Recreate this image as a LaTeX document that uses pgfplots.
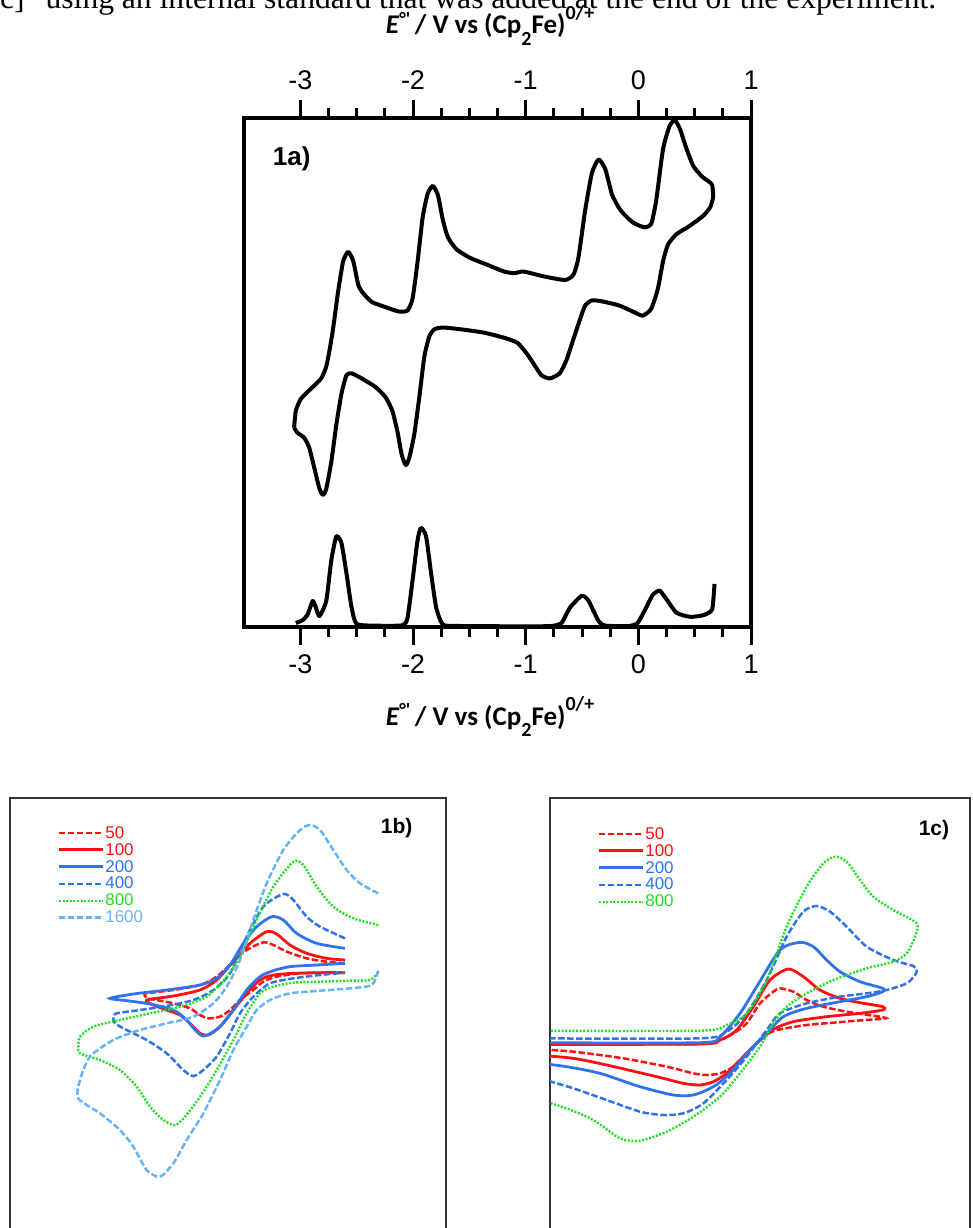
\documentclass[border=0pt]{standalone}
\usepackage{fontspec}
\usepackage{pgfplots}
\pgfplotsset{compat=1.18}
\setmainfont{Liberation Sans}
\newfontfamily\labfont{Carlito}
\newfontfamily\bodyfont{Liberation Serif}

\definecolor{cvred}{HTML}{FF1010}
\definecolor{cvblue}{HTML}{2F73EC}
\definecolor{cvgreen}{HTML}{22E022}
\definecolor{cvlblue}{HTML}{68B4F2}
\definecolor{framegray}{HTML}{333333}

% axis title: E°' / V vs (Cp2Fe)0/+
\newcommand\elabel{{\labfont\bfseries\fontsize{27}{27}\selectfont
  \textit{E}\raisebox{0.32em}{\fontsize{19}{19}\selectfont °'}\,/ V vs (Cp\raisebox{-0.42em}{\fontsize{20}{20}\selectfont 2}Fe)\raisebox{0.55em}{\fontsize{20}{20}\selectfont 0/+}}}

\pgfplotsset{
  panel/.style={scale only axis, anchor=south west,
    xtick=\empty, ytick=\empty, clip=true,
    axis line style={framegray, line width=1.8pt},
    ymin=20, ymax=1346,
    legend style={draw=none, fill=none, anchor=north west,
      font=\fontsize{17}{17}\selectfont, row sep=1.6pt, inner sep=0pt,
      nodes={inner sep=1pt}},
    legend image code/.code={\draw[##1] (0pt,0pt) -- (44pt,0pt);},
    legend cell align=left,
    every axis plot/.append style={smooth, tension=0.45}},
  s50/.style={cvred, line width=2.5pt, dash pattern=on 6.5pt off 2.5pt},
  s100/.style={cvred, line width=2.8pt},
  s200/.style={cvblue, line width=2.8pt},
  s400/.style={cvblue, line width=2.5pt, dash pattern=on 6.5pt off 2.5pt},
  s800/.style={cvgreen, line width=2.4pt, dash pattern=on 2pt off 1.6pt},
  s1600/.style={cvlblue, line width=2.5pt, dash pattern=on 6.5pt off 2.5pt},
}

\begin{document}
\begin{tikzpicture}[x=1pt,y=1pt]

% last line of the running text above the figure (cut at the page edge)
\node[anchor=base west, inner sep=0pt, font=\bodyfont\fontsize{31.6}{31.6}\selectfont]
  at (0,-9) {c]\textsuperscript{+} using an internal standard that was added at the end of the experiment.};

% ---------------- 1a) CV + DPV ----------------
\begin{axis}[
  at={(244pt,-627pt)}, anchor=south west,
  scale only axis, width=507pt, height=509pt,
  xmin=-3.5, xmax=1, ymin=0, ymax=1499,
  xtick={-3,-2,-1,0,1}, xticklabels={-3,-2,-1,0,1},
  minor x tick num=3, ytick=\empty,
  xtick align=outside,
  major tick length=18pt, minor tick length=10pt,
  every tick/.style={black, line width=3pt},
  axis line style={line width=3.5pt},
  xticklabel style={font=\fontsize{27}{27}\selectfont, yshift=-6pt},
  clip=false,
]
% cyclic voltammogram
\addplot[black, line width=4pt, line join=round, smooth, tension=0.35] coordinates {
  (-3.055,587) (-3.040,637) (-2.995,672) (-2.905,702) (-2.815,732) (-2.770,767)
  (-2.740,817) (-2.710,877) (-2.665,987) (-2.620,1077) (-2.575,1105) (-2.530,1077)
  (-2.485,1007) (-2.440,982) (-2.364,957) (-2.244,942) (-2.124,929) (-2.049,932)
  (-2.004,967) (-1.959,1077) (-1.914,1207) (-1.869,1277) (-1.824,1299) (-1.779,1272)
  (-1.734,1197) (-1.689,1147) (-1.613,1112) (-1.493,1087) (-1.343,1067) (-1.193,1047)
  (-1.103,1042) (-1.028,1047) (-0.953,1042) (-0.832,1032) (-0.652,1022) (-0.577,1037)
  (-0.532,1087) (-0.472,1227) (-0.412,1337) (-0.352,1377) (-0.292,1347) (-0.232,1272)
  (-0.157,1227) (-0.051,1192) (0.054,1177) (0.114,1187) (0.159,1257) (0.219,1407)
  (0.279,1477) (0.324,1492) (0.369,1467) (0.429,1407) (0.489,1357) (0.564,1327)
  (0.625,1312) (0.655,1302) (0.664,1267) (0.639,1237) (0.579,1212) (0.459,1182)
  (0.339,1157) (0.264,1127) (0.219,1077) (0.174,997) (0.114,937) (0.039,917)
  (-0.036,927) (-0.172,947) (-0.322,959) (-0.412,962) (-0.472,947) (-0.517,907)
  (-0.577,847) (-0.637,787) (-0.697,747) (-0.787,732) (-0.862,742) (-0.923,772)
  (-0.983,802) (-1.073,837) (-1.193,852) (-1.373,867) (-1.583,877) (-1.734,882)
  (-1.809,877) (-1.854,857) (-1.899,797) (-1.944,677) (-1.989,567) (-2.034,497)
  (-2.064,477) (-2.100,507) (-2.139,577) (-2.184,637) (-2.244,677) (-2.334,707)
  (-2.455,732) (-2.545,747) (-2.590,742) (-2.635,687) (-2.680,597) (-2.725,487)
  (-2.770,407) (-2.800,389) (-2.830,407) (-2.875,467) (-2.920,527) (-2.965,557)
  (-3.025,572) (-3.055,587)
};
% differential pulse voltammogram
\addplot[black, line width=4pt, line join=round, smooth, tension=0.35] coordinates {
  (-3.040,12) (-2.980,20) (-2.935,37) (-2.890,77) (-2.860,55) (-2.830,32)
  (-2.770,77) (-2.725,197) (-2.680,267) (-2.635,247) (-2.590,157) (-2.545,57)
  (-2.500,9) (-2.334,4) (-2.094,5) (-2.049,27) (-2.004,137) (-1.959,257)
  (-1.929,292) (-1.884,267) (-1.839,157) (-1.794,57) (-1.734,7) (-1.583,3)
  (-1.000,2) (-0.772,3) (-0.682,12) (-0.607,57) (-0.502,92) (-0.442,77)
  (-0.352,17) (-0.292,4) (-0.082,3) (-0.006,12) (0.069,57) (0.129,95)
  (0.189,107) (0.249,82) (0.339,42) (0.459,30) (0.579,35) (0.655,52) (0.676,127)
};
\node[anchor=west, font=\bfseries\fontsize{26}{26}\selectfont]
  at (rel axis cs:0.05,0.92) {1a)};
\end{axis}

% top tick labels
\begin{axis}[
  at={(244pt,-627pt)}, anchor=south west,
  scale only axis, width=507pt, height=509pt,
  xmin=-3.5, xmax=1, ymin=0, ymax=1499,
  hide y axis, axis x line*=top, axis line style={draw=none},
  xtick={-3,-2,-1,0,1}, xticklabels={-3,-2,-1,0,1},
  tick style={draw=none}, major tick length=18pt, xtick align=outside,
  xticklabel style={font=\fontsize{27}{27}\selectfont, yshift=7pt},
]
\end{axis}

\node[anchor=base] at (490,-34) {\elabel};
\node[anchor=base] at (490,-725) {\elabel};

% ---------------- 1b) scan-rate series ----------------
\begin{axis}[panel, at={(10pt,-1240pt)}, width=436pt, height=442pt,
  xmin=30, xmax=1338,
  legend style={at={(axis cs:172,1265)}}]
\addplot[s50] coordinates {
  (1035,850) (980,855) (920,865) (860,885) (820,905) (790,913) (740,890) (700,855)
  (650,810) (600,785) (520,770) (440,760) (435,752) (440,745) (470,740) (520,730)
  (570,715) (600,695) (625,685) (660,690) (690,710) (720,740) (760,770) (790,795)
  (830,810) (900,820) (980,822) (1035,822)};
\addlegendentry{\textcolor{cvred}{50}}
\addplot[s100] coordinates {
  (1035,860) (980,865) (920,880) (870,905) (830,938) (800,945) (750,910) (700,855)
  (650,800) (600,770) (520,752) (440,740) (460,725) (500,710) (540,695) (570,670)
  (600,640) (625,635) (660,660) (700,710) (740,760) (780,800) (820,815) (880,820)
  (960,822) (1035,822)};
\addlegendentry{\textcolor{cvred}{100}}
\addplot[s200] coordinates {
  (1035,895) (950,910) (890,940) (850,980) (815,990) (770,960) (730,910) (690,845)
  (650,805) (600,785) (500,770) (400,758) (330,745) (380,738) (450,728) (520,710)
  (560,680) (590,645) (615,632) (660,660) (700,710) (740,770) (780,810) (820,828)
  (870,840) (950,845) (1035,850)};
\addlegendentry{\textcolor{cvblue}{200}}
\addplot[s400] coordinates {
  (1035,925) (960,960) (920,990) (880,1040) (850,1058) (790,1020) (740,930) (690,820)
  (640,770) (580,740) (500,722) (420,710) (350,700) (340,688) (345,670) (380,650)
  (440,620) (500,580) (550,530) (580,512) (610,530) (650,570) (690,640) (720,700)
  (760,750) (810,790) (880,805) (960,815) (1035,822)};
\addlegendentry{\textcolor{cvblue}{400}}
\addplot[s800] coordinates {
  (1135,965) (1060,985) (1000,1020) (950,1080) (910,1145) (880,1155) (820,1080)
  (770,980) (720,870) (680,810) (620,750) (540,720) (450,700) (360,680) (280,660)
  (240,630) (235,600) (240,580) (300,560) (360,530) (410,480) (450,420) (490,380)
  (525,365) (555,390) (600,450) (650,530) (700,620) (740,700) (780,760) (820,780)
  (880,792) (960,795) (1050,798) (1110,800) (1135,825)};
\addlegendentry{\textcolor{cvgreen}{800}}
\addplot[s1600] coordinates {
  (1135,1060) (1080,1090) (1040,1130) (1000,1190) (960,1250) (930,1265) (900,1250)
  (850,1190) (800,1090) (760,980) (720,860) (680,780) (640,730) (580,690) (500,670)
  (420,650) (340,620) (270,570) (240,500) (235,445) (300,400) (360,350) (400,300)
  (440,230) (480,210) (520,250) (560,320) (610,400) (660,500) (700,590) (740,660)
  (770,710) (810,740) (870,760) (960,768) (1050,775) (1115,785) (1135,828)};
\addlegendentry{\textcolor{cvlblue}{1600}}
\node[anchor=east, font=\bfseries\fontsize{21}{21}\selectfont] at (axis cs:1248,1255) {1b)};
\end{axis}

% ---------------- 1c) scan-rate series ----------------
\begin{axis}[panel, at={(550pt,-1240pt)}, width=420pt, height=442pt,
  xmin=30, xmax=1290,
  legend style={at={(axis cs:172,1262)}}]
\addplot[s50] coordinates {
  (0,610) (300,608) (480,608) (540,620) (580,640) (620,670) (660,730) (700,765)
  (720,775) (760,765) (800,740) (850,720) (920,705) (1030,688) (1030,684) (950,678)
  (880,672) (800,665) (720,652) (690,642) (650,610) (610,570) (580,540) (540,520)
  (500,515) (460,520) (380,540) (250,565) (100,585) (0,592)};
\addlegendentry{\textcolor{cvred}{50}}
\addplot[s100] coordinates {
  (0,607) (480,608) (540,620) (590,650) (640,720) (690,800) (745,833) (790,810)
  (840,770) (900,745) (960,732) (1028,720) (1028,710) (960,700) (860,690) (760,675)
  (700,652) (650,610) (600,560) (560,520) (520,495) (480,485) (430,490) (350,510)
  (200,545) (100,565) (0,574)};
\addlegendentry{\textcolor{cvred}{100}}
\addplot[s200] coordinates {
  (0,612) (480,612) (540,630) (600,700) (650,780) (720,890) (780,913) (820,900)
  (860,860) (900,825) (960,795) (1028,775) (1028,765) (980,750) (900,735) (800,715)
  (730,690) (680,640) (630,590) (570,520) (520,480) (460,455) (400,455) (300,480)
  (180,520) (80,540) (0,550)};
\addlegendentry{\textcolor{cvblue}{200}}
\addplot[s400] coordinates {
  (0,625) (480,625) (560,645) (620,700) (680,800) (740,930) (790,1005) (830,1022)
  (870,1005) (920,960) (980,900) (1060,860) (1120,842) (1130,828) (1125,815)
  (1100,790) (1040,770) (980,760) (900,750) (800,730) (720,700) (680,650) (620,570)
  (560,500) (490,430) (430,400) (370,395) (300,405) (200,440) (100,475) (0,505)};
\addlegendentry{\textcolor{cvblue}{400}}
\addplot[s800] coordinates {
  (0,648) (480,648) (560,665) (620,700) (680,800) (740,960) (800,1080) (850,1150)
  (885,1170) (920,1155) (960,1100) (1000,1050) (1060,1010) (1130,970) (1125,930)
  (1100,880) (1060,855) (980,835) (880,800) (800,760) (740,720) (700,670) (660,600)
  (600,520) (540,450) (460,390) (380,345) (300,318) (240,325) (160,380) (80,415)
  (0,440)};
\addlegendentry{\textcolor{cvgreen}{800}}
\node[anchor=east, font=\bfseries\fontsize{21}{21}\selectfont] at (axis cs:1238,1250) {1c)};
\end{axis}

\pgfresetboundingbox
\path[use as bounding box] (0,0) rectangle (972,-1228);
\end{tikzpicture}
\end{document}
